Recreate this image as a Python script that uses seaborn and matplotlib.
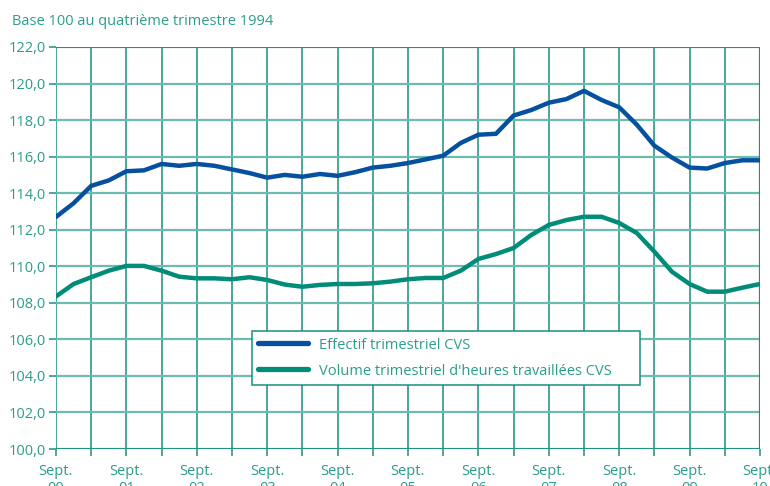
import numpy as np
import pandas as pd
import seaborn as sns
import matplotlib.pyplot as plt
from matplotlib.ticker import FuncFormatter

# Data (quarterly, Sept 2000 -> Sept 2010)
years = ["00", "01", "02", "03", "04", "05", "06", "07", "08", "09", "10"]
effectif = [112.7, 113.45, 114.4, 114.7, 115.2, 115.25, 115.6, 115.5, 115.6, 115.5,
            115.3, 115.1, 114.85, 115.0, 114.9, 115.05, 114.95, 115.15, 115.4, 115.5,
            115.65, 115.85, 116.05, 116.75, 117.2, 117.25, 118.25, 118.55, 118.95, 119.15,
            119.6, 119.1, 118.7, 117.75, 116.6, 115.95, 115.4, 115.35, 115.65, 115.8, 115.8]
volume = [108.35, 109.03, 109.4, 109.76, 110.02, 110.02, 109.76, 109.43, 109.34, 109.34,
          109.29, 109.4, 109.25, 109.0, 108.88, 108.98, 109.03, 109.03, 109.07, 109.16,
          109.29, 109.36, 109.36, 109.76, 110.4, 110.67, 111.0, 111.71, 112.26, 112.53,
          112.71, 112.71, 112.37, 111.82, 110.8, 109.7, 109.03, 108.61, 108.61, 108.83, 109.03]
labels = ["Effectif trimestriel CVS", "Volume trimestriel d'heures travaillées CVS"]

teal_text = "#2a9d8c"
grid_dark = "#16907e"
grid_light = "#6bbcaf"
colors = ["#0650a0", "#008c78"]

quarters = np.arange(len(effectif))
df = pd.concat([
    pd.DataFrame({"t": quarters, "val": effectif, "serie": labels[0]}),
    pd.DataFrame({"t": quarters, "val": volume, "serie": labels[1]}),
])

sns.set_style("white")
plt.rcParams['font.family'] = ['Open Sans', 'DejaVu Sans']

fig = plt.figure(figsize=(7.7, 4.86), dpi=100)
ax = fig.add_axes([0.0727, 0.0761, 0.9143, 0.8272])

# grid
ax.set_xlim(0, 40)
ax.set_ylim(100, 122)
for xv in np.arange(0, 41, 2):
    ax.axvline(xv, color=grid_dark, lw=1.1, zorder=1)
for yv in np.arange(100, 123, 2):
    ax.axhline(yv, color=grid_light, lw=1.6, zorder=1)
ax.axhline(122, color=grid_dark, lw=1.3, zorder=1)
ax.axhline(100, color=grid_dark, lw=1.3, zorder=1)
ax.axvline(40, color="#2a8a78", lw=1.6, zorder=1)

sns.lineplot(data=df, x="t", y="val", hue="serie", palette=colors,
             linewidth=3.2, ax=ax, legend=False, zorder=3)

for s in ax.spines.values():
    s.set_visible(False)

ax.set_xlabel("")
ax.set_ylabel("")
ax.set_xticks(np.arange(0, 41, 2))
ax.set_xticklabels([f"Sept.\n{years[i // 2]}" if i % 2 == 0 else "" for i in range(21)])
ax.set_yticks(np.arange(100, 123, 2))
ax.yaxis.set_major_formatter(FuncFormatter(lambda v, p: f"{v:.1f}".replace(".", ",")))
ax.tick_params(axis="both", colors=grid_dark, labelcolor=teal_text, labelsize=10.5,
               length=5, width=1.1, direction="out")
ax.tick_params(axis="x", pad=6)
ax.tick_params(axis="y", pad=2)
ax.tick_params(axis="both", left=True, bottom=True)

fig.text(0.016, 0.955, "Base 100 au quatrième trimestre 1994", color=teal_text,
         fontsize=10.5, ha="left", va="center")

handles = [plt.Line2D([], [], color=c, lw=3.8) for c in colors]
leg = ax.legend(handles, labels, loc="lower left", bbox_to_anchor=(0.278, 0.159, 0.551, 0.13),
                mode="expand", borderaxespad=0, frameon=True, fancybox=False, fontsize=10.5,
                handlelength=3.4, labelcolor=teal_text, borderpad=0.45,
                labelspacing=0.75, handletextpad=0.75)
leg.get_frame().set_edgecolor(grid_dark)
leg.get_frame().set_linewidth(1.1)
leg.get_frame().set_facecolor("white")
leg.get_frame().set_alpha(1)
leg.set_zorder(5)

fig.savefig("out.png", dpi=100)
